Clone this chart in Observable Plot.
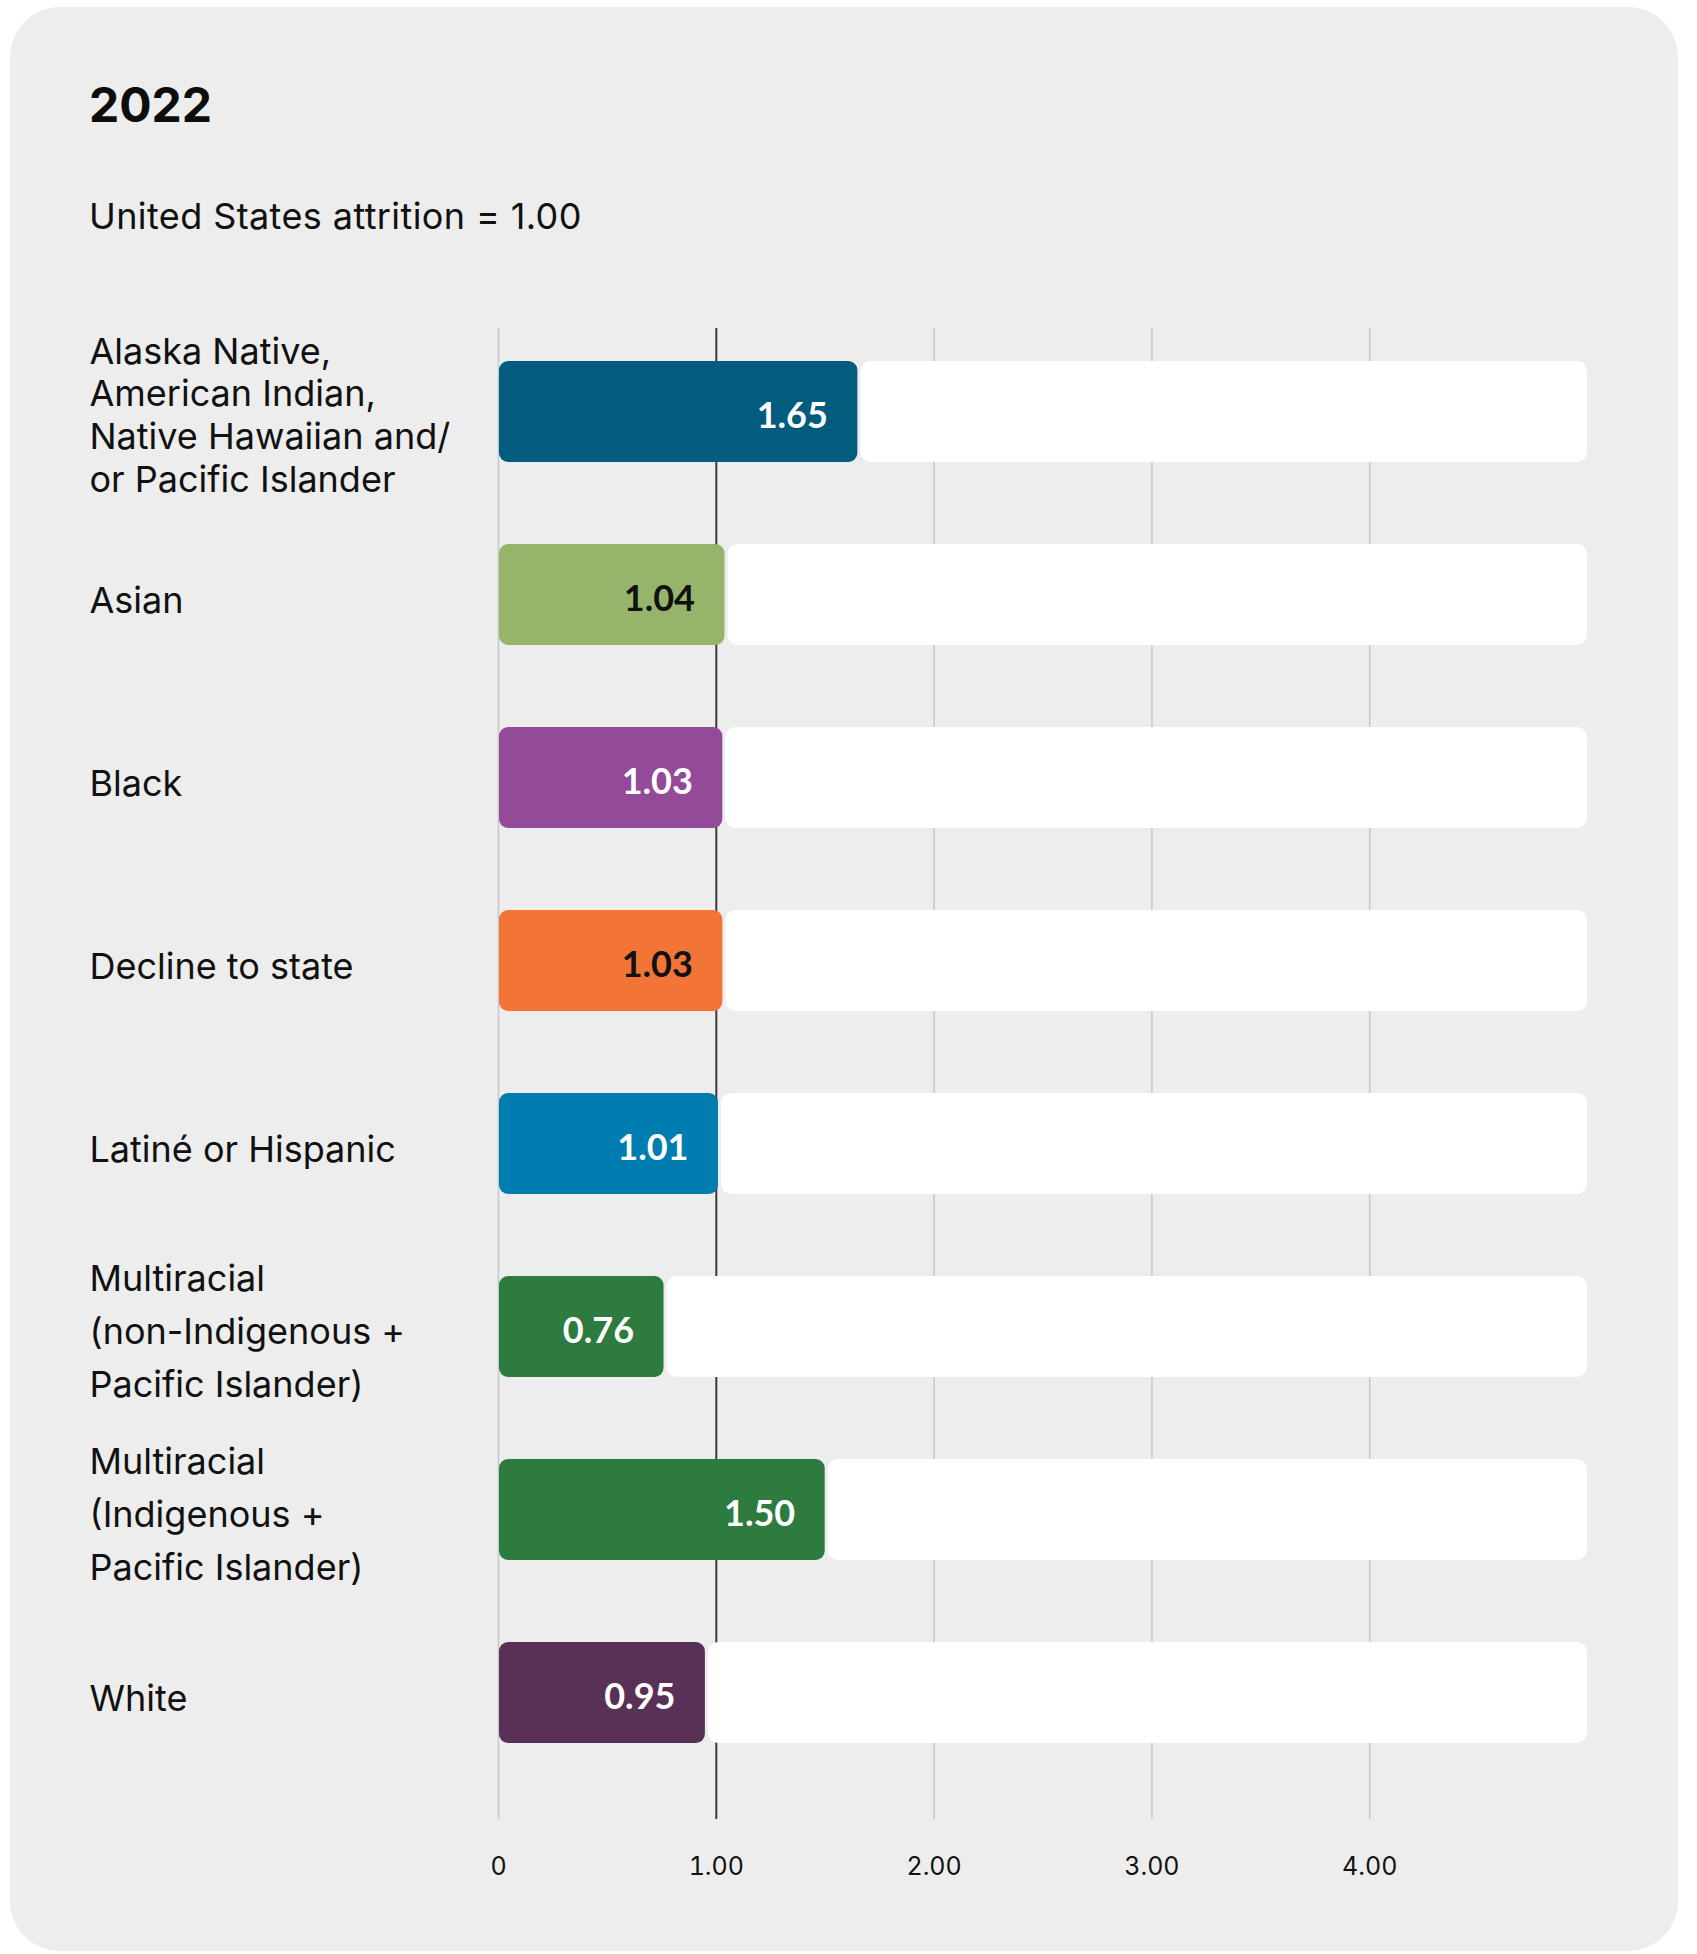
<!DOCTYPE html>
<html>
<head>
<meta charset="utf-8">
<script src="https://cdn.jsdelivr.net/npm/d3@7"></script>
<script src="https://cdn.jsdelivr.net/npm/@observablehq/plot@0.6"></script>
<style>
  html, body { margin: 0; padding: 0; background: #ffffff; }
  body { width: 1697px; height: 1954px; position: relative; overflow: hidden; font-family: Inter, sans-serif; color: #111; }
  #card { position: absolute; left: 10px; top: 7px; width: 1668px; height: 1944px; border-radius: 50px; background: #ECEDEC; }
  #title { position: absolute; left: 89px; top: 81px; font-size: 48px; font-weight: 700; line-height: 1; color: #0d0d0d; }
  #subtitle { position: absolute; left: 89px; top: 198px; font-size: 36px; letter-spacing: 0.4px; font-weight: 400; line-height: 1; color: #111; }
  #chart { position: absolute; left: 0; top: 280px; }
</style>
</head>
<body>
<div id="card"></div>
<div id="title">2022</div>
<div id="subtitle">United States attrition = 1.00</div>
<div id="chart"></div>
<script>
// ---- data ----
const categories = [
  "Alaska Native, American Indian, Native Hawaiian and/or Pacific Islander",
  "Asian",
  "Black",
  "Decline to state",
  "Latiné or Hispanic",
  "Multiracial (non-Indigenous + Pacific Islander)",
  "Multiracial (Indigenous + Pacific Islander)",
  "White"
];
const labels = [
  "Alaska Native,\nAmerican Indian,\nNative Hawaiian and/\nor Pacific Islander",
  "Asian",
  "Black",
  "Decline to state",
  "Latiné or Hispanic",
  "Multiracial\n(non-Indigenous +\nPacific Islander)",
  "Multiracial\n(Indigenous +\nPacific Islander)",
  "White"
];
const values = [1.65, 1.04, 1.03, 1.03, 1.01, 0.76, 1.50, 0.95];
const barColors = ["#035C7E", "#96B46A", "#924A99", "#F37437", "#007DB0", "#2E7B40", "#2E7B40", "#5A3156"];
const valueLabelColors = ["#ffffff", "#111111", "#ffffff", "#111111", "#ffffff", "#ffffff", "#ffffff", "#ffffff"];
const xMax = 5;
const xTicks = [0, 1, 2, 3, 4];
const lightGrid = [0, 2, 3, 4];
const referenceLine = [1];

const data = categories.map((c, i) => ({
  cat: c, label: labels[i], value: values[i], color: barColors[i], textColor: valueLabelColors[i], max: xMax
}));
const isMulti = d => d.label.startsWith("Multiracial");
const isAlaska = d => d.label.startsWith("Alaska");

const chart = Plot.plot({
  width: 1697,
  height: 1640,
  marginLeft: 498,
  marginRight: 110,
  marginTop: 48,
  marginBottom: 101,
  style: { background: "transparent", fontFamily: "Inter, sans-serif" },
  x: { domain: [0, xMax], axis: null },
  y: { domain: categories, axis: null, paddingInner: 0.448, paddingOuter: 0.296, align: 0.304 },
  marks: [
    Plot.ruleX(lightGrid, { stroke: "#C6C8CA", strokeWidth: 1.5 }),
    Plot.ruleX(referenceLine, { stroke: "#3a3a3a", strokeWidth: 2 }),
    Plot.barX(data, { y: "cat", x1: "value", x2: "max", fill: "#ffffff", insetLeft: 3, rx: 10 }),
    Plot.barX(data, { y: "cat", x1: 0, x2: "value", fill: d => d.color, insetLeft: 1, rx: 9 }),
    Plot.text(data, {
      y: "cat", x: "value", text: d => d.value.toFixed(2),
      fill: d => d.textColor, textAnchor: "end", dx: -30, dy: 4,
      fontSize: 36, fontWeight: 700, fontFamily: "Lato, sans-serif"
    }),
    Plot.text(data.filter(d => !isMulti(d) && !isAlaska(d)), {
      y: "cat", text: "label", frameAnchor: "left", textAnchor: "start", dx: -409, dy: 6,
      fontSize: 36, fill: "#111", fontFamily: "Inter, sans-serif"
    }),
    Plot.text(data.filter(isAlaska), {
      y: "cat", text: "label", frameAnchor: "left", textAnchor: "start", dx: -409, dy: 2,
      fontSize: 36, lineHeight: 1.186, fill: "#111", fontFamily: "Inter, sans-serif"
    }),
    Plot.text(data.filter(isMulti), {
      y: "cat", text: "label", frameAnchor: "left", textAnchor: "start", dx: -409,
      fontSize: 36, lineHeight: 1.47, fill: "#111", fontFamily: "Inter, sans-serif"
    }),
    Plot.axisX({
      ticks: xTicks, tickSize: 0, tickPadding: 38,
      tickFormat: d => d === 0 ? "0" : d.toFixed(2),
      fontSize: 25, fill: "#111", fontFamily: "Inter, sans-serif"
    })
  ]
});
document.getElementById("chart").appendChild(chart);
</script>
</body>
</html>
